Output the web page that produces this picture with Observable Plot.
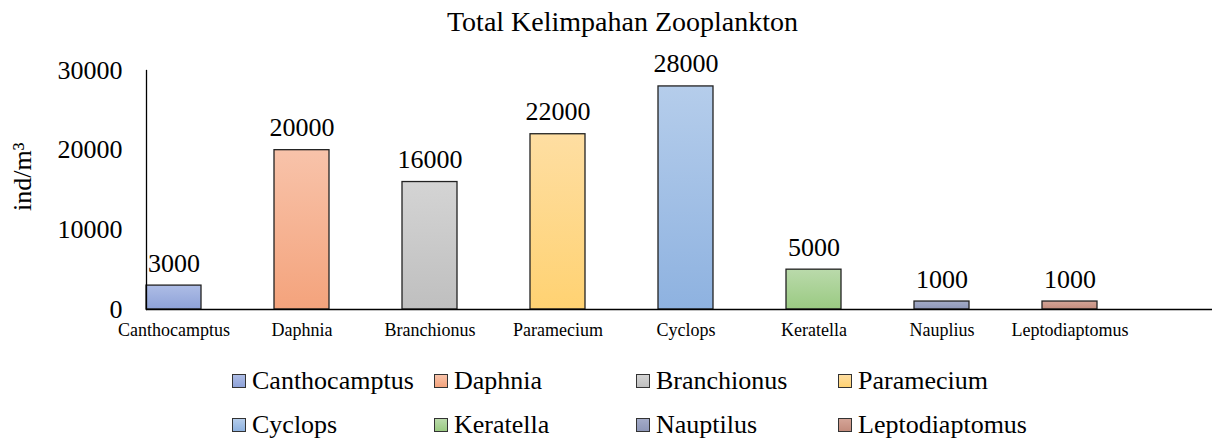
<!DOCTYPE html>
<html>
<head>
<meta charset="utf-8">
<script src="https://cdn.jsdelivr.net/npm/d3@7"></script>
<script src="https://cdn.jsdelivr.net/npm/@observablehq/plot@0.6"></script>
<style>
  html, body { margin: 0; padding: 0; background: #fff; }
  body { width: 1229px; height: 441px; overflow: hidden; font-family: "Liberation Serif", "Times New Roman", serif; color: #000; }
  #title { height: 44px; line-height: 44px; text-align: center; font-size: 28px; padding-left: 16px; box-sizing: border-box; }
  #legend { padding-top: 5px; }
  .row { display: flex; height: 44px; align-items: center; padding-left: 232px; }
  .item { width: 202px; display: flex; align-items: center; font-size: 26px; white-space: nowrap; }
  .sw { width: 12px; height: 12px; border: 1px solid #333; margin-right: 6px; flex: none; }
  svg text, svg g { font-family: "Liberation Serif", "Times New Roman", serif !important; }
  svg [aria-label="y-axis tick label"] { font-size: 26px; }
  svg [aria-label="x-axis tick label"] { font-size: 18px; }
</style>
</head>
<body>
<div id="title">Total Kelimpahan Zooplankton</div>
<div id="chart"></div>
<div id="legend"></div>
<script>
const categories = ["Canthocamptus", "Daphnia", "Branchionus", "Paramecium", "Cyclops", "Keratella", "Nauplius", "Leptodiaptomus"];
const values = [3000, 20000, 16000, 22000, 28000, 5000, 1000, 1000];
const legendLabels = ["Canthocamptus", "Daphnia", "Branchionus", "Paramecium", "Cyclops", "Keratella", "Nauptilus", "Leptodiaptomus"];
const yTicks = [0, 10000, 20000, 30000];
const topColors = ["#aebde6", "#f8c3aa", "#d4d4d4", "#fedea2", "#b5cdeb", "#badaab", "#a3abc8", "#d4a497"];
const bottomColors = ["#8ea2d8", "#f4a37c", "#bfbfbf", "#ffd272", "#8eb2e0", "#9aca82", "#8e97b8", "#c38c7d"];
const yLabel = "ind/m³";
const serif = '"Liberation Serif", "Times New Roman", serif';

const rows = categories.map((c, i) => ({cat: c, val: values[i], grad: `url(#grad${i})`}));

const plot = Plot.plot({
  width: 1229,
  height: 310,
  marginTop: 26,
  marginBottom: 45,
  marginLeft: 146,
  marginRight: 17,
  style: {fontFamily: serif, fontSize: "26px", color: "#000", background: "#fff"},
  x: {domain: categories, paddingInner: 0.573, paddingOuter: 0.42, align: 0, label: null},
  y: {domain: [0, 30000], label: null},
  marks: [
    ...rows.map(r => Plot.barY([r], {x: "cat", y: "val", fill: r.grad, stroke: "#222", strokeWidth: 1.3})),
    Plot.ruleY([0], {stroke: "#000", strokeWidth: 1.3}),
    Plot.frame({anchor: "left", stroke: "#000", strokeWidth: 1.3}),
    Plot.axisY({ticks: yTicks, tickSize: 0, tickPadding: 24, tickFormat: d3.format("d"), fontSize: 26, fontFamily: serif, label: null}),
    Plot.axisX({tickSize: 0, tickPadding: 14, fontSize: 18, fontFamily: serif, label: null}),
    Plot.text(rows, {x: "cat", y: "val", text: d => String(d.val), lineAnchor: "bottom", dy: -14, fontSize: 26, fontFamily: serif, fill: "#000"}),
    Plot.text([yLabel], {frameAnchor: "left", rotate: -90, dx: -124, dy: 21, fontSize: 26, fontFamily: serif, fill: "#000"})
  ]
});

// gradient definitions
const svg = d3.select(plot);
const defs = svg.insert("defs", ":first-child");
topColors.forEach((c, i) => {
  const g = defs.append("linearGradient").attr("id", `grad${i}`).attr("x1", 0).attr("y1", 0).attr("x2", 0).attr("y2", 1);
  g.append("stop").attr("offset", "0%").attr("stop-color", c);
  g.append("stop").attr("offset", "100%").attr("stop-color", bottomColors[i]);
});

document.getElementById("chart").appendChild(plot);

// legend
const legend = document.getElementById("legend");
for (let r = 0; r < 2; r++) {
  const row = document.createElement("div");
  row.className = "row";
  for (let k = 0; k < 4; k++) {
    const i = r * 4 + k;
    const item = document.createElement("div");
    item.className = "item";
    const sw = document.createElement("span");
    sw.className = "sw";
    sw.style.background = `linear-gradient(${topColors[i]}, ${bottomColors[i]})`;
    const t = document.createElement("span");
    t.textContent = legendLabels[i];
    item.appendChild(sw);
    item.appendChild(t);
    row.appendChild(item);
  }
  legend.appendChild(row);
}
</script>
</body>
</html>
